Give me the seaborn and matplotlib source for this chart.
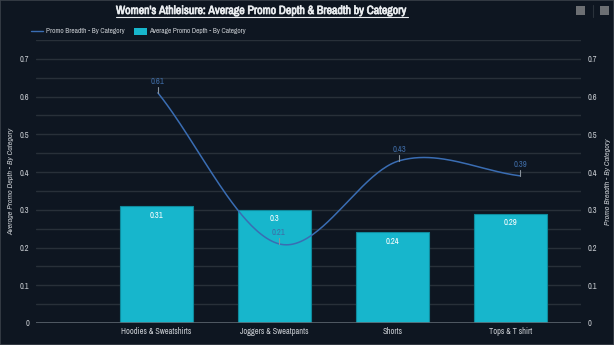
import numpy as np
import pandas as pd
import matplotlib
matplotlib.use("Agg")
import matplotlib.pyplot as plt
import matplotlib.patheffects as pe
from matplotlib import font_manager
from matplotlib.lines import Line2D
from matplotlib.patches import Rectangle
import seaborn as sns

categories = ["Hoodies & Sweatshirts", "Joggers & Sweatpants", "Shorts", "Tops & T shirt"]
promo_depth = [0.31, 0.30, 0.24, 0.29]
promo_breadth = [0.61, 0.21, 0.43, 0.39]
y_ticks = [0, 0.1, 0.2, 0.3, 0.4, 0.5, 0.6, 0.7]

title = "Women's Athleisure: Average Promo Depth & Breadth by Category"
depth_label = "Average Promo Depth - By Category"
breadth_label = "Promo Breadth - By Category"

BG = "#0e1621"
BAR = "#17b6cc"
BAR_EDGE = "#0f8a9c"
LINE = "#3a6db3"
LINE_TXT = "#3f6ca6"
GRID = "#283039"
ZERO = "#5b656e"
TXT = "#c9cdd2"

sns.set_theme(style="dark")
names = {f.name for f in font_manager.fontManager.ttflist}
narrow = sorted(n for n in names if "Narrow" in n or "Condensed" in n)
main = narrow[0] if narrow else "Liberation Sans"
plt.rcParams["font.family"] = [main, "DejaVu Sans"]

W, H = 614, 345
fig = plt.figure(figsize=(W / 100, H / 100), dpi=100, facecolor=BG)
fig.patches.append(Rectangle((0, 0), 1, 1, transform=fig.transFigure, fill=False,
                             edgecolor="#3a4149", linewidth=1.2))


def fit_width(txt, px):
    """Scale a text's font size so it spans the given width in pixels."""
    fig.canvas.draw()
    w = txt.get_window_extent().width
    txt.set_fontsize(txt.get_fontsize() * px / w)


left, right, top, bottom = 36, 581, 40, 323
rect = [left / W, (H - bottom) / H, (right - left) / W, (bottom - top) / H]

ax = fig.add_axes(rect, facecolor=BG)
df = pd.DataFrame({"category": categories, "depth": promo_depth})
sns.barplot(data=df, x="category", y="depth", ax=ax, color=BAR, width=0.62,
            edgecolor=BAR_EDGE, linewidth=0.8, saturation=1)
ax.set_xlim(-1.02, 3.6)
ax.set_ylim(0, 0.75)
ax.set_yticks(y_ticks)
ax.set_yticklabels(["0" if t == 0 else f"{t:g}" for t in y_ticks])
ax.grid(False)
for yv in np.arange(0.05, 0.751, 0.05):
    ax.axhline(yv, color=GRID, linewidth=1, zorder=0)
ax.axhline(0, color=ZERO, linewidth=1.2, zorder=3)
ax.tick_params(axis="y", length=0, labelsize=6, labelcolor=TXT, pad=5)
ax.tick_params(axis="x", length=0, labelsize=6, labelcolor=TXT, pad=3)
ax.set_xlabel("")
ax.set_ylabel(depth_label, color=TXT, fontsize=5.8, style="italic", labelpad=4)
for s in ax.spines.values():
    s.set_visible(False)
for bar, v in zip(ax.patches, promo_depth):
    ax.text(bar.get_x() + bar.get_width() / 2, v - 0.012, f"{v:g}", ha="center", va="top",
            color="white", fontsize=6.2)

# Catmull-Rom curve through the breadth values
xp = np.arange(len(promo_breadth), dtype=float)
yp = np.array(promo_breadth)
n = len(yp)
m = np.empty(n)
m[0] = yp[1] - yp[0]
m[-1] = yp[-1] - yp[-2]
m[1:-1] = (yp[2:] - yp[:-2]) / 2
xs, ys = [], []
for i in range(n - 1):
    t = np.linspace(0, 1, 50)
    h00 = 2 * t**3 - 3 * t**2 + 1
    h10 = t**3 - 2 * t**2 + t
    h01 = -2 * t**3 + 3 * t**2
    h11 = t**3 - t**2
    xs.extend(xp[i] + t)
    ys.extend(h00 * yp[i] + h10 * m[i] + h01 * yp[i + 1] + h11 * m[i + 1])

ax2 = fig.add_axes(rect, facecolor="none")
sns.lineplot(x=xs, y=ys, ax=ax2, color=LINE, linewidth=1.1, sort=False)
ax2.set_xlim(-1.01, 3.505)
ax2.set_ylim(0, 0.75)
ax2.set_xticks([])
ax2.yaxis.tick_right()
ax2.yaxis.set_label_position("right")
ax2.set_yticks(y_ticks)
ax2.set_yticklabels(["0" if t == 0 else f"{t:g}" for t in y_ticks])
ax2.tick_params(axis="y", length=0, labelsize=6, labelcolor=TXT, pad=5)
ax2.set_ylabel(breadth_label, color=TXT, fontsize=5.8, style="italic", labelpad=5)
ax2.grid(False)
for s in ax2.spines.values():
    s.set_visible(False)
px = 0.75 / (bottom - top)
for x, v in zip(xp, promo_breadth):
    ax2.plot([x, x], [v, v + 6 * px], color="#8a939c", linewidth=0.8)
    ax2.text(x, v + 7 * px, f"{v:g}", ha="center", va="bottom", color=LINE_TXT, fontsize=6.2)

# title with underline
t = fig.text(262 / W, 1 - 10.5 / H, title, ha="center", va="center", color="#e9ecef",
             fontsize=9, fontweight="bold",
             path_effects=[pe.withStroke(linewidth=0.5, foreground="#e9ecef")])
fit_width(t, 291)

# legend
ly = 1 - 31 / H
fig.add_artist(Line2D([31 / W, 43 / W], [ly, ly], color=LINE, linewidth=1, transform=fig.transFigure))
l1 = fig.text(46 / W, ly, breadth_label, ha="left", va="center", color=TXT, fontsize=5.5)
fig.patches.append(Rectangle((134 / W, ly - 3.5 / H), 13 / W, 7 / H, transform=fig.transFigure,
                             facecolor=BAR, edgecolor="none"))
l2 = fig.text(149 / W, ly, depth_label, ha="left", va="center", color=TXT, fontsize=5.5)
fit_width(l1, 79)
fit_width(l2, 98)

fig.canvas.draw()
bb = t.get_window_extent()
fig.add_artist(Line2D([bb.x0 / W, bb.x1 / W], [(H - 16.5) / H] * 2, color="#e9ecef",
                      linewidth=0.8, transform=fig.transFigure))

# toolbar icons
for x0 in (576, 600):
    fig.patches.append(Rectangle((x0 / W, 1 - 15 / H), 9 / W, 9 / H, transform=fig.transFigure,
                                 facecolor="#6c6f73", edgecolor="none"))
fig.add_artist(Line2D([593 / W] * 2, [1 - 17 / H, 1 - 5 / H], color="#2a323b",
                      linewidth=0.8, transform=fig.transFigure))

fig.savefig("out.png", dpi=100, facecolor=BG)
